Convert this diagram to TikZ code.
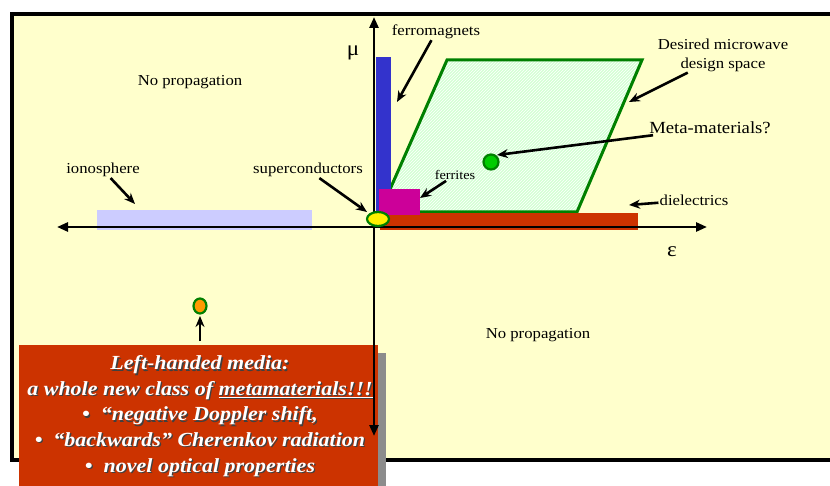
\documentclass[tikz,border=0pt]{standalone}
\usepackage{fontspec}
\setmainfont{Liberation Serif}[FakeStretch=1.1]
\usetikzlibrary{arrows.meta,patterns}
\definecolor{slidebg}{HTML}{FFFFCC}
\definecolor{ferroblue}{HTML}{3333CC}
\definecolor{ferritepink}{HTML}{CC0099}
\definecolor{dielred}{HTML}{CC3300}
\definecolor{ionolilac}{HTML}{CCCCFF}
\definecolor{dkgreen}{HTML}{008000}
\definecolor{dotgreen}{HTML}{00CC00}
\definecolor{lhmorange}{HTML}{FF9900}
\definecolor{spacegreen}{HTML}{D4FFD4}
\newcommand{\lhmtext}{Left-handed media:\\a whole new class of \underline{metamaterials!!!}\\%
•\ \ “negative Doppler shift,\\•\ \ “backwards” Cherenkov radiation\\•\ \ novel optical properties}
\tikzset{
lbl/.style={font=\fontsize{15.2}{17}\selectfont,inner sep=1pt},
pointer/.style={-{Stealth[length=11pt,width=9pt]},line width=2.6pt},
axis/.style={{Triangle[length=11pt,width=9pt]}-{Triangle[length=11pt,width=9pt]},line width=2.6pt},
dot/.style={draw=dkgreen,line width=2.2pt},
boxtext/.style={align=center,font=\fontsize{20}{25.6}\selectfont\bfseries\itshape,inner sep=0pt}
}
\begin{document}
\begin{tikzpicture}[x=1pt,y=-1pt]
\useasboundingbox (0,0) rectangle (830,486);
\clip (0,0) rectangle (830,486);
% slide frame
\fill[white] (0,0) rectangle (830,486);
\filldraw[fill=slidebg,draw=black,line width=4pt] (12,14) rectangle (860,460);
% design space
\fill[spacegreen] (447,60) -- (642,60) -- (577,212) -- (380,212) -- cycle;
\fill[pattern=north east lines,pattern color=white] (447,60) -- (642,60) -- (577,212) -- (380,212) -- cycle;
\draw[dkgreen,line width=3pt,line join=miter] (447,60) -- (642,60) -- (577,212) -- (380,212) -- cycle;
% material bars
\fill[ferroblue] (376,57) rectangle (391,228);
\fill[dielred] (380,213) rectangle (638,230);
\fill[ferritepink] (379,189) rectangle (420,215);
\fill[ionolilac] (97,210) rectangle (312,230);
% left-handed media box
\fill[black!45] (378,353) rectangle (386,486);
\fill[dielred] (19,345) rectangle (378,486);
\node[boxtext,text=black!75] at (201.3,417.3) {\lhmtext};
\node[boxtext,text=white] (lhm) at (200,416) {\lhmtext};
% axes
\draw[axis] (57,227) -- (707,227);
\draw[axis] (374,436) -- (374,17);
\node[font=\fontsize{21}{21}\selectfont] (mu) at (353,53) {μ};
\node[font=\fontsize{21}{21}\selectfont] (eps) at (672,252) {ε};
% points
\filldraw[dot,fill=yellow] (378,219) ellipse [x radius=11pt,y radius=7pt];
\filldraw[dot,fill=dotgreen] (491,162) circle [radius=7.5pt];
\filldraw[dot,fill=lhmorange] (200,306) ellipse [x radius=6.5pt,y radius=7.5pt];
% labels
\node[lbl] (ferro) at (436,32) {ferromagnets};
\node[lbl,align=center,font=\fontsize{15.2}{19}\selectfont] (space) at (723,55) {Desired microwave\\design space};
\node[lbl,font=\fontsize{17}{19}\selectfont] (meta) at (710,128) {Meta-materials?};
\node[lbl,font=\fontsize{13}{15}\selectfont] (ferrite) at (455,175) {ferrites};
\node[lbl] (super) at (308,170) {superconductors};
\node[lbl] (iono) at (103,170) {ionosphere};
\node[lbl] (diel) at (694,200) {dielectrics};
\node[lbl] (noprop1) at (190,82) {No propagation};
\node[lbl] (noprop2) at (538,335) {No propagation};
% arrow tips
\coordinate (ferro-tip) at (397,102);
\coordinate (space-tip) at (629,102);
\coordinate (meta-tip) at (497,155);
\coordinate (ferrite-tip) at (420,198);
\coordinate (super-tip) at (367,212);
\coordinate (iono-tip) at (135,204);
\coordinate (diel-tip) at (629,205);
\coordinate (lhm-tail) at (200,341);
\coordinate (lhm-tip) at (200,316);
\draw[pointer] (ferro) -- (ferro-tip);
\draw[pointer] (space) -- (space-tip);
\draw[pointer] (meta) -- (meta-tip);
\draw[pointer] (ferrite) -- (ferrite-tip);
\draw[pointer] (super) -- (super-tip);
\draw[pointer] (iono) -- (iono-tip);
\draw[pointer] (diel) -- (diel-tip);
\draw[pointer] (lhm-tail) -- (lhm-tip);
\end{tikzpicture}
\end{document}
